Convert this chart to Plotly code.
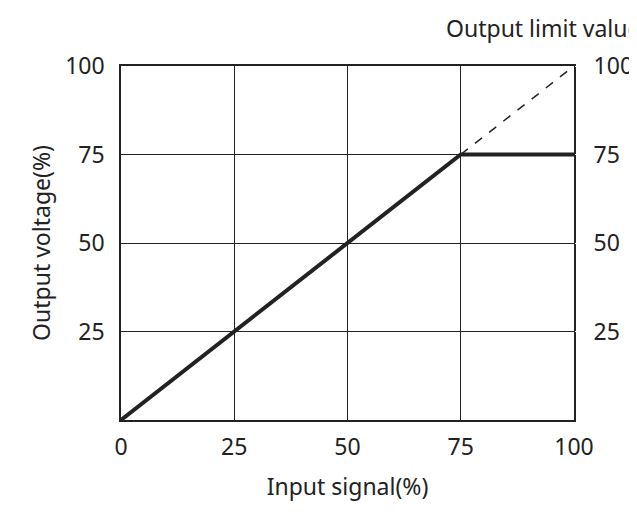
import plotly.graph_objects as go

# data
x_line = [0, 75, 100]
y_line = [0, 75, 75]
x_dash = [75, 100]
y_dash = [75, 100]
ticks = [0, 25, 50, 75, 100]
y_ticks = [25, 50, 75, 100]

font = dict(family="Noto Sans", size=23, color="#222")

fig = go.Figure()
fig.add_trace(go.Scatter(x=x_dash, y=y_dash, mode="lines",
                         line=dict(color="#222", width=1.5, dash="dash")))
fig.add_trace(go.Scatter(x=x_line, y=y_line, mode="lines",
                         line=dict(color="#222", width=4)))
fig.add_trace(go.Scatter(x=[0], y=[0], yaxis="y2", mode="markers",
                         marker=dict(opacity=0), hoverinfo="skip"))

axis_common = dict(range=[0, 100], showline=True, linecolor="#222", linewidth=1.5,
                   mirror=True, showgrid=True, gridcolor="#222", gridwidth=1,
                   zeroline=False, ticks="outside", ticklen=10, tickcolor="white",
                   tickfont=font, automargin=False)
fig.update_layout(
    width=637, height=512, showlegend=False,
    plot_bgcolor="white", paper_bgcolor="white",
    margin=dict(l=113, r=71, t=58, b=100),
    xaxis=dict(axis_common, tickvals=ticks, ticklen=6,
               title=dict(text="Input signal(%)", font=font, standoff=18)),
    yaxis=dict(axis_common, tickvals=y_ticks,
               title=dict(text="Output voltage(%)", font=font, standoff=8)),
    yaxis2=dict(range=[0, 100], overlaying="y", side="right", tickvals=y_ticks,
                showgrid=False, zeroline=False, showline=False, tickfont=font,
                ticks="outside", ticklen=14, tickcolor="white", automargin=False),
    annotations=[dict(text="Output limit value", x=1.15, y=1.0, xref="paper",
                      yref="paper", xanchor="right", yanchor="bottom", yshift=20,
                      showarrow=False, font=font)],
)
fig.write_html("out.html")
